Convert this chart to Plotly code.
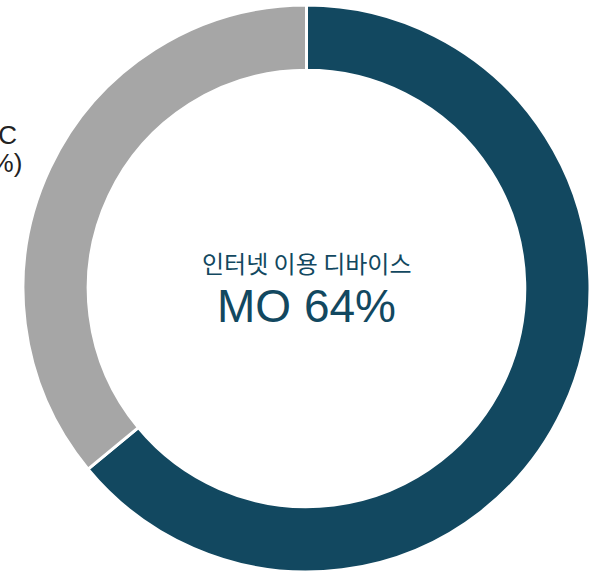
import plotly.graph_objects as go

# Device share of internet usage
labels = ["MO", "PC"]
values = [64, 36]
colors = ["#124860", "#a6a6a6"]
title_text = "인터넷 이용 디바이스"

fig = go.Figure(
    go.Pie(
        labels=labels,
        values=values,
        hole=0.77,
        sort=False,
        direction="clockwise",
        rotation=0,
        textinfo="none",
        hoverinfo="label+percent",
        marker=dict(colors=colors, line=dict(color="white", width=3)),
        showlegend=False,
    )
)

teal = colors[0]
# centre caption
fig.add_annotation(
    x=0.5, y=0.545, xref="paper", yref="paper", yanchor="middle",
    text=title_text, showarrow=False,
    font=dict(family="Noto Sans CJK KR", size=24, color=teal),
)
fig.add_annotation(
    x=0.5, y=0.47, xref="paper", yref="paper", yanchor="middle",
    text=f"{labels[0]} {values[0]}%", showarrow=False,
    font=dict(family="Liberation Sans", size=46, color=teal),
)
# outside label of the PC slice, two lines right-aligned
label_font = dict(family="Liberation Sans", size=26, color="#222222")
fig.add_annotation(
    x=-0.007, y=0.77, xref="paper", yref="paper",
    xanchor="right", yanchor="middle",
    text=labels[1], showarrow=False, font=label_font,
)
fig.add_annotation(
    x=0.002, y=0.722, xref="paper", yref="paper",
    xanchor="right", yanchor="middle",
    text=f"({values[1]}%)", showarrow=False, font=label_font,
)

fig.update_layout(
    width=590, height=577,
    margin=dict(l=23, r=0, t=5, b=5),
    paper_bgcolor="white",
    plot_bgcolor="white",
)

fig.write_html("out.html")
